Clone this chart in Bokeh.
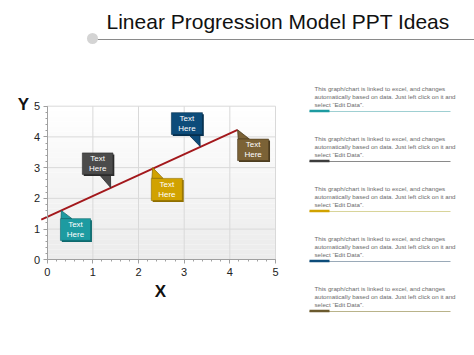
import numpy as np
from bokeh.plotting import figure
from bokeh.models import Range1d, FixedTicker
from bokeh.core.properties import value
from bokeh.embed import file_html
from bokeh.resources import INLINE

# ---------------- data ----------------
title_text = "Linear Progression Model PPT Ideas"
x_ticks = [0, 1, 2, 3, 4, 5]
y_ticks = [0, 1, 2, 3, 4, 5]

trend_x = [-0.13, 4.17]
trend_y = [1.31, 4.23]

callout_left = [0.29, 0.77, 2.28, 2.72, 4.17]
callout_right = [0.95, 1.44, 2.96, 3.40, 4.85]
callout_bottom = [0.63, 2.78, 1.93, 4.08, 3.23]
callout_top = [1.34, 3.48, 2.65, 4.79, 3.93]
callout_tip_x = [0.31, 1.39, 2.31, 3.35, 4.17]
callout_tip_y = [1.60, 2.35, 3.00, 3.69, 4.23]
callout_text = ["Text\nHere"] * 5
callout_colors = ["#1d9ba1", "#4b4b4b", "#d1a200", "#0d4c7a", "#7b6236"]
callout_edge = ["#0f6a6e", "#2a2a2a", "#8f6f00", "#062f4d", "#4d3d20"]

side_text = ["This graph/chart is linked to excel, and changes\n"
             "automatically based on data. Just left click on it and\n"
             "select \u201cEdit Data\u201d."] * 5
side_colors = ["#1d9ba1", "#3d3d3d", "#d1a200", "#0d4c7a", "#6b5a2e"]
side_rule_colors = ["#9fcfd2", "#8a8a8a", "#d8d49a", "#9aaab8", "#b9b38a"]

FONT = "Liberation Sans"
W, H = 474, 355
# chart area on the page (pixels)
CL, CR, CT, CB = 46.7, 275.0, 105.7, 259.3
sx = (CR - CL) / 5.0
sy = (CB - CT) / 5.0

p = figure(width=W, height=H,
           x_range=Range1d(-CL / sx, (W - CL) / sx),
           y_range=Range1d(-(H - CB) / sy, CB / sy),
           output_backend="svg", toolbar_location=None, min_border=0)
p.outline_line_color = None
p.grid.visible = False
p.extra_x_ranges = {"px": Range1d(0, W)}
p.extra_y_ranges = {"px": Range1d(H, 0)}
PX = dict(x_range_name="px", y_range_name="px")

# ---------------- title strip ----------------
p.text(x=[106], y=[21], text=[title_text], text_font=value(FONT),
       text_font_size="21px", text_color="#111111",
       text_baseline="middle", text_align="left", **PX)
p.segment(x0=[97], y0=[39], x1=[W], y1=[39], line_color="#8a8a8a", line_width=1, **PX)
p.scatter(x=[92], y=[38], size=11, fill_color="#d4d4d4", line_color=None, **PX)

# ---------------- chart ----------------
n_bands = 30
edges = np.linspace(0, 5, n_bands + 1)
shades = np.linspace(236, 255, n_bands).astype(int)
band_colors = ["#%02x%02x%02x" % (s, s, s) for s in shades]
p.quad(left=0, right=5, bottom=edges[:-1], top=edges[1:],
       fill_color=band_colors, line_color=None)

# grid lines at tick positions
p.segment(x0=x_ticks[1:], y0=0, x1=x_ticks[1:], y1=5, line_color="#d9d9d9", line_width=1)
p.segment(x0=0, y0=y_ticks[1:], x1=5, y1=y_ticks[1:], line_color="#d9d9d9", line_width=1)

minor = list(np.round(np.arange(0, 5.01, 0.2), 2))
p.xaxis.ticker = FixedTicker(ticks=x_ticks, minor_ticks=minor)
p.yaxis.ticker = FixedTicker(ticks=y_ticks, minor_ticks=minor)
p.xaxis.fixed_location = 0
p.yaxis.fixed_location = 0
p.xaxis.bounds = (0, 5)
p.yaxis.bounds = (0, 5)
for ax in (p.xaxis, p.yaxis):
    ax.axis_line_color = "#a0a0a0"
    ax.major_tick_line_color = "#a0a0a0"
    ax.minor_tick_line_color = "#a0a0a0"
    ax.major_tick_out = 4
    ax.major_tick_in = 0
    ax.minor_tick_out = 2
    ax.minor_tick_in = 0
    ax.major_label_text_font = FONT
    ax.major_label_text_font_size = "11px"
    ax.major_label_text_color = "#222222"
p.xaxis.major_label_standoff = 4
p.yaxis.major_label_standoff = 3

# axis names
p.text(x=[23, 160], y=[104, 291], text=["Y", "X"], text_font=value(FONT),
       text_font_style="bold", text_font_size="17px", text_color="#111111",
       text_align="center", text_baseline="middle", **PX)

# trend line
p.line(trend_x, trend_y, line_color="#a3181c", line_width=2)

# callouts: tail triangles, shadow, boxes, text
tail_xs, tail_ys = [], []
for l, r, b, t, tx, ty in zip(callout_left, callout_right, callout_bottom,
                              callout_top, callout_tip_x, callout_tip_y):
    w = r - l
    edge_y = t if ty > t else b
    if tx - l < w / 2:
        bx0, bx1 = l + 0.02 * w, l + 0.38 * w
    else:
        bx0, bx1 = r - 0.45 * w, r - 0.08 * w
    tail_xs.append([bx0, tx, bx1])
    tail_ys.append([edge_y, ty, edge_y])

p.patches(xs=tail_xs, ys=tail_ys, fill_color=callout_colors, line_color=callout_edge,
          line_width=0.8)
p.quad(left=[v + 0.03 for v in callout_left], right=[v + 0.03 for v in callout_right],
       bottom=[v - 0.05 for v in callout_bottom], top=[v - 0.05 for v in callout_top],
       fill_color=callout_edge, line_color=None)
p.quad(left=callout_left, right=callout_right, bottom=callout_bottom, top=callout_top,
       fill_color=callout_colors, line_color=callout_edge, line_width=0.6)
cx = [(l + r) / 2 for l, r in zip(callout_left, callout_right)]
cy = [(b + t) / 2 for b, t in zip(callout_bottom, callout_top)]
p.text(x=cx, y=cy, text=callout_text, text_font=value(FONT), text_font_size="8px",
       text_color="white", text_align="center", text_baseline="middle",
       text_line_height=1.15)

# ---------------- side notes ----------------
rule_y = [111 + 50 * i for i in range(5)]
p.segment(x0=[309] * 5, y0=rule_y, x1=[450] * 5, y1=rule_y,
          line_color=side_rule_colors, line_width=1, **PX)
p.segment(x0=[309] * 5, y0=[y - 0.5 for y in rule_y], x1=[329] * 5,
          y1=[y - 0.5 for y in rule_y], line_color=side_colors, line_width=2.5, **PX)
p.text(x=[314] * 5, y=[y - 15 for y in rule_y], text=side_text,
       text_font=value(FONT), text_font_size="6.2px", text_color="#6a6a6a",
       text_align="left", text_baseline="middle", text_line_height=1.2, **PX)

open("out.html", "w").write(file_html(p, INLINE))
